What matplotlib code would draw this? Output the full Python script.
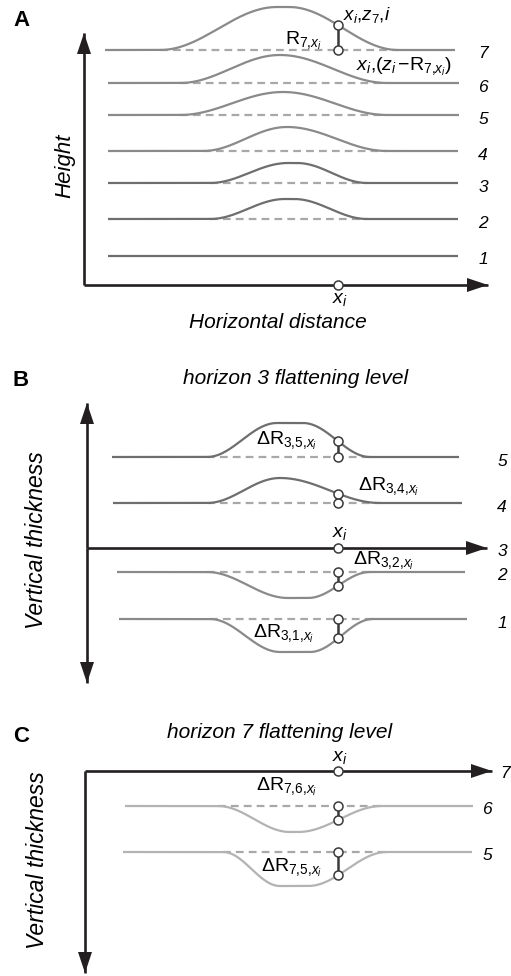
import numpy as np
import matplotlib
matplotlib.use("Agg")
import matplotlib.pyplot as plt
from matplotlib.patches import Polygon

plt.rcParams['font.family'] = ['Liberation Sans', 'DejaVu Sans']
plt.rcParams['mathtext.fontset'] = 'custom'
plt.rcParams['mathtext.rm'] = 'Liberation Sans'
plt.rcParams['mathtext.it'] = 'Liberation Sans:italic'
plt.rcParams['mathtext.bf'] = 'Liberation Sans:bold'

# ---------------- horizon geometry (drawing units = figure pixels, y downwards) -----
XI = 338  # sample position x_i

# Panel A: structural heights of horizons 1..7
A_names = ['1', '2', '3', '4', '5', '6', '7']
A_base = [256, 219, 183, 151, 115, 83, 50]
A_left = [108, 108, 108, 108, 108, 108, 105]
A_right = [458, 458, 458, 458, 459, 459, 455]
A_start = [None, 210, 210, 203, 180, 180, 160]
A_crest0 = [None, 285, 288, 287, 283, 280, 277]
A_crest1 = [None, 294, 297, 287, 283, 280, 289]
A_end = [None, 367, 367, 387, 387, 387, 398]
A_crest_y = [None, 199, 163, 127, 92, 55, 7]
A_colors = ['#6e6e6e', '#6e6e6e', '#6e6e6e', '#8a8a8a', '#8a8a8a', '#8a8a8a', '#8a8a8a']

# Panel B: thickness relative to horizon 3
B_names = ['1', '2', '4', '5']
B_base = [619, 572, 503, 457]
B_left = [119, 117, 113, 112]
B_right = [467, 465, 462, 459]
B_start = [210, 207, 207, 207]
B_crest0 = [280, 288, 280, 277]
B_crest1 = [310, 308, 280, 303]
B_end = [373, 370, 380, 370]
B_crest_y = [652, 598, 478, 423]
B_colors = ['#8a8a8a', '#8a8a8a', '#6e6e6e', '#6e6e6e']

# Panel C: thickness relative to horizon 7
C_names = ['5', '6']
C_base = [852, 806]
C_left = [123, 125]
C_right = [472, 473]
C_start = [223, 218]
C_crest0 = [280, 290]
C_crest1 = [308, 298]
C_end = [387, 382]
C_crest_y = [886, 832]
C_colors = ['#b3b3b3', '#b3b3b3']

AXIS_COLOR = '#231f20'
DASH_COLOR = '#a8a8a8'


def profile(x, base, start, c0, c1, end, crest):
    """Flat horizon with a smooth bump/trough between start and end."""
    y = np.full_like(x, float(base))
    if start is None:
        return y
    up = (x >= start) & (x < c0)
    y[up] = base + (crest - base) * (1 - np.cos(np.pi * (x[up] - start) / (c0 - start))) / 2
    top = (x >= c0) & (x <= c1)
    y[top] = crest
    dn = (x > c1) & (x <= end)
    y[dn] = base + (crest - base) * (1 + np.cos(np.pi * (x[dn] - c1) / (end - c1))) / 2
    return y


fig = plt.figure(figsize=(5.11, 9.76), dpi=100)
ax = fig.add_axes([0, 0, 1, 1])
ax.set_xlim(0, 511)
ax.set_ylim(976, 0)
ax.axis('off')


def arrow_head(tip, direction, length=21, width=14):
    tx, ty = tip
    dx, dy = direction
    bx, by = tx - dx * length, ty - dy * length
    px, py = -dy * width / 2, dx * width / 2
    ax.add_patch(Polygon([(tx, ty), (bx + px, by + py), (bx - px, by - py)],
                         closed=True, color=AXIS_COLOR, lw=0, zorder=5))


def axis_line(p0, p1, head=True):
    ax.plot([p0[0], p1[0]], [p0[1], p1[1]], color=AXIS_COLOR, lw=1.9,
            solid_capstyle='butt', zorder=4)
    if head:
        d = np.array(p1, float) - np.array(p0, float)
        d /= np.hypot(*d)
        arrow_head(p1, d)


def draw_horizons(base, left, right, start, c0, c1, end, crest, colors):
    marks = []
    for i in range(len(base)):
        x = np.linspace(left[i], right[i], 600)
        y = profile(x, base[i], start[i], c0[i], c1[i], end[i], crest[i])
        if start[i] is not None:
            ax.plot([start[i], end[i]], [base[i], base[i]], color=DASH_COLOR,
                    lw=1.6, dashes=(3.5, 2.3), zorder=2)
        ax.plot(x, y, color=colors[i], lw=1.6, zorder=3, solid_capstyle='butt')
        yi = profile(np.array([float(XI)]), base[i], start[i], c0[i], c1[i], end[i], crest[i])[0]
        marks.append((base[i], yi))
    return marks


def thickness_bar(y0, y1):
    ax.plot([XI, XI], [y0, y1], color='#3a3a3a', lw=1.8, zorder=6)
    ax.plot([XI, XI], [y0, y1], 'o', ms=6.5, mfc='white', mec='#3a3a3a',
            mew=1.1, zorder=7)


def open_dot(x, y):
    ax.plot([x], [y], 'o', ms=6.5, mfc='white', mec='#3a3a3a', mew=1.1, zorder=7)


label_kw = dict(fontsize=12.5, style='italic', ha='center', va='center')

# ---------------- Panel A ----------------
axis_line((84, 285), (84, 33))
axis_line((84, 285), (488, 285))
open_dot(XI, 285)
marksA = draw_horizons(A_base, A_left, A_right, A_start, A_crest0, A_crest1,
                       A_end, A_crest_y, A_colors)
for n, b in zip(A_names, A_base):
    ax.text(483, b + 4, n, **label_kw)
thickness_bar(*marksA[6])
ax.text(21, 21, 'A', fontsize=16, fontweight='bold', ha='center', va='center')
ax.text(65, 166, 'Height', fontsize=16, style='italic', rotation=90,
        ha='center', va='center')
ax.text(278, 322, 'Horizontal distance', fontsize=15, style='italic',
        ha='center', va='center')
ax.text(340, 300, r'$x_i$', fontsize=14, ha='center', va='center')
ax.text(322, 41, r'$\mathrm{R}_{\mathit{7{,}}x_i}$', fontsize=14, ha='right', va='center')
ax.text(343, 15, r'$x_i{,}z_{\mathit{7}}{,}i$', fontsize=13.5, ha='left', va='center')
ax.text(356, 67, r'$x_i{,}(z_i\,\mathrm{-R}_{\mathit{7{,}}x_i})$', fontsize=14,
        ha='left', va='center')

# ---------------- Panel B ----------------
axis_line((87, 548), (87, 403))
axis_line((87, 548), (87, 683))
axis_line((87, 548), (487, 548))
open_dot(XI, 548)
marksB = draw_horizons(B_base, B_left, B_right, B_start, B_crest0, B_crest1,
                       B_end, B_crest_y, B_colors)
for n, b in zip(B_names, B_base):
    ax.text(502, b + 4, n, **label_kw)
ax.text(502, 552, '3', **label_kw)
for y0, y1 in marksB:
    thickness_bar(y0, y1)
ax.text(21, 381, 'B', fontsize=16, fontweight='bold', ha='center', va='center')
ax.text(296, 378, 'horizon 3 flattening level', fontsize=15, style='italic',
        ha='center', va='center')
ax.text(37, 540, 'Vertical thickness', fontsize=16.5, style='italic', rotation=90,
        ha='center', va='center')
ax.text(340, 534, r'$x_i$', fontsize=14, ha='center', va='center')
ax.text(256, 441, r'$\Delta\mathrm{R}_{\mathit{3{,}5{,}}x_i}$', fontsize=14, ha='left', va='center')
ax.text(358, 487, r'$\Delta\mathrm{R}_{\mathit{3{,}4{,}}x_i}$', fontsize=14, ha='left', va='center')
ax.text(353, 561, r'$\Delta\mathrm{R}_{\mathit{3{,}2{,}}x_i}$', fontsize=14, ha='left', va='center')
ax.text(253, 634, r'$\Delta\mathrm{R}_{\mathit{3{,}1{,}}x_i}$', fontsize=14, ha='left', va='center')

# ---------------- Panel C ----------------
axis_line((85, 771), (492, 771))
axis_line((85, 771), (85, 973))
open_dot(XI, 771)
marksC = draw_horizons(C_base, C_left, C_right, C_start, C_crest0, C_crest1,
                       C_end, C_crest_y, C_colors)
for n, b in zip(C_names, C_base):
    ax.text(487, b + 3, n, **label_kw)
ax.text(505, 773, '7', **label_kw)
for y0, y1 in marksC:
    thickness_bar(y0, y1)
ax.text(21, 737, 'C', fontsize=16, fontweight='bold', ha='center', va='center')
ax.text(280, 733, 'horizon 7 flattening level', fontsize=15, style='italic',
        ha='center', va='center')
ax.text(38, 860, 'Vertical thickness', fontsize=16.5, style='italic', rotation=90,
        ha='center', va='center')
ax.text(340, 757, r'$x_i$', fontsize=14, ha='center', va='center')
ax.text(256, 787, r'$\Delta\mathrm{R}_{\mathit{7{,}6{,}}x_i}$', fontsize=14, ha='left', va='center')
ax.text(261, 868, r'$\Delta\mathrm{R}_{\mathit{7{,}5{,}}x_i}$', fontsize=14, ha='left', va='center')

fig.savefig('out.png', dpi=100, facecolor='white')
